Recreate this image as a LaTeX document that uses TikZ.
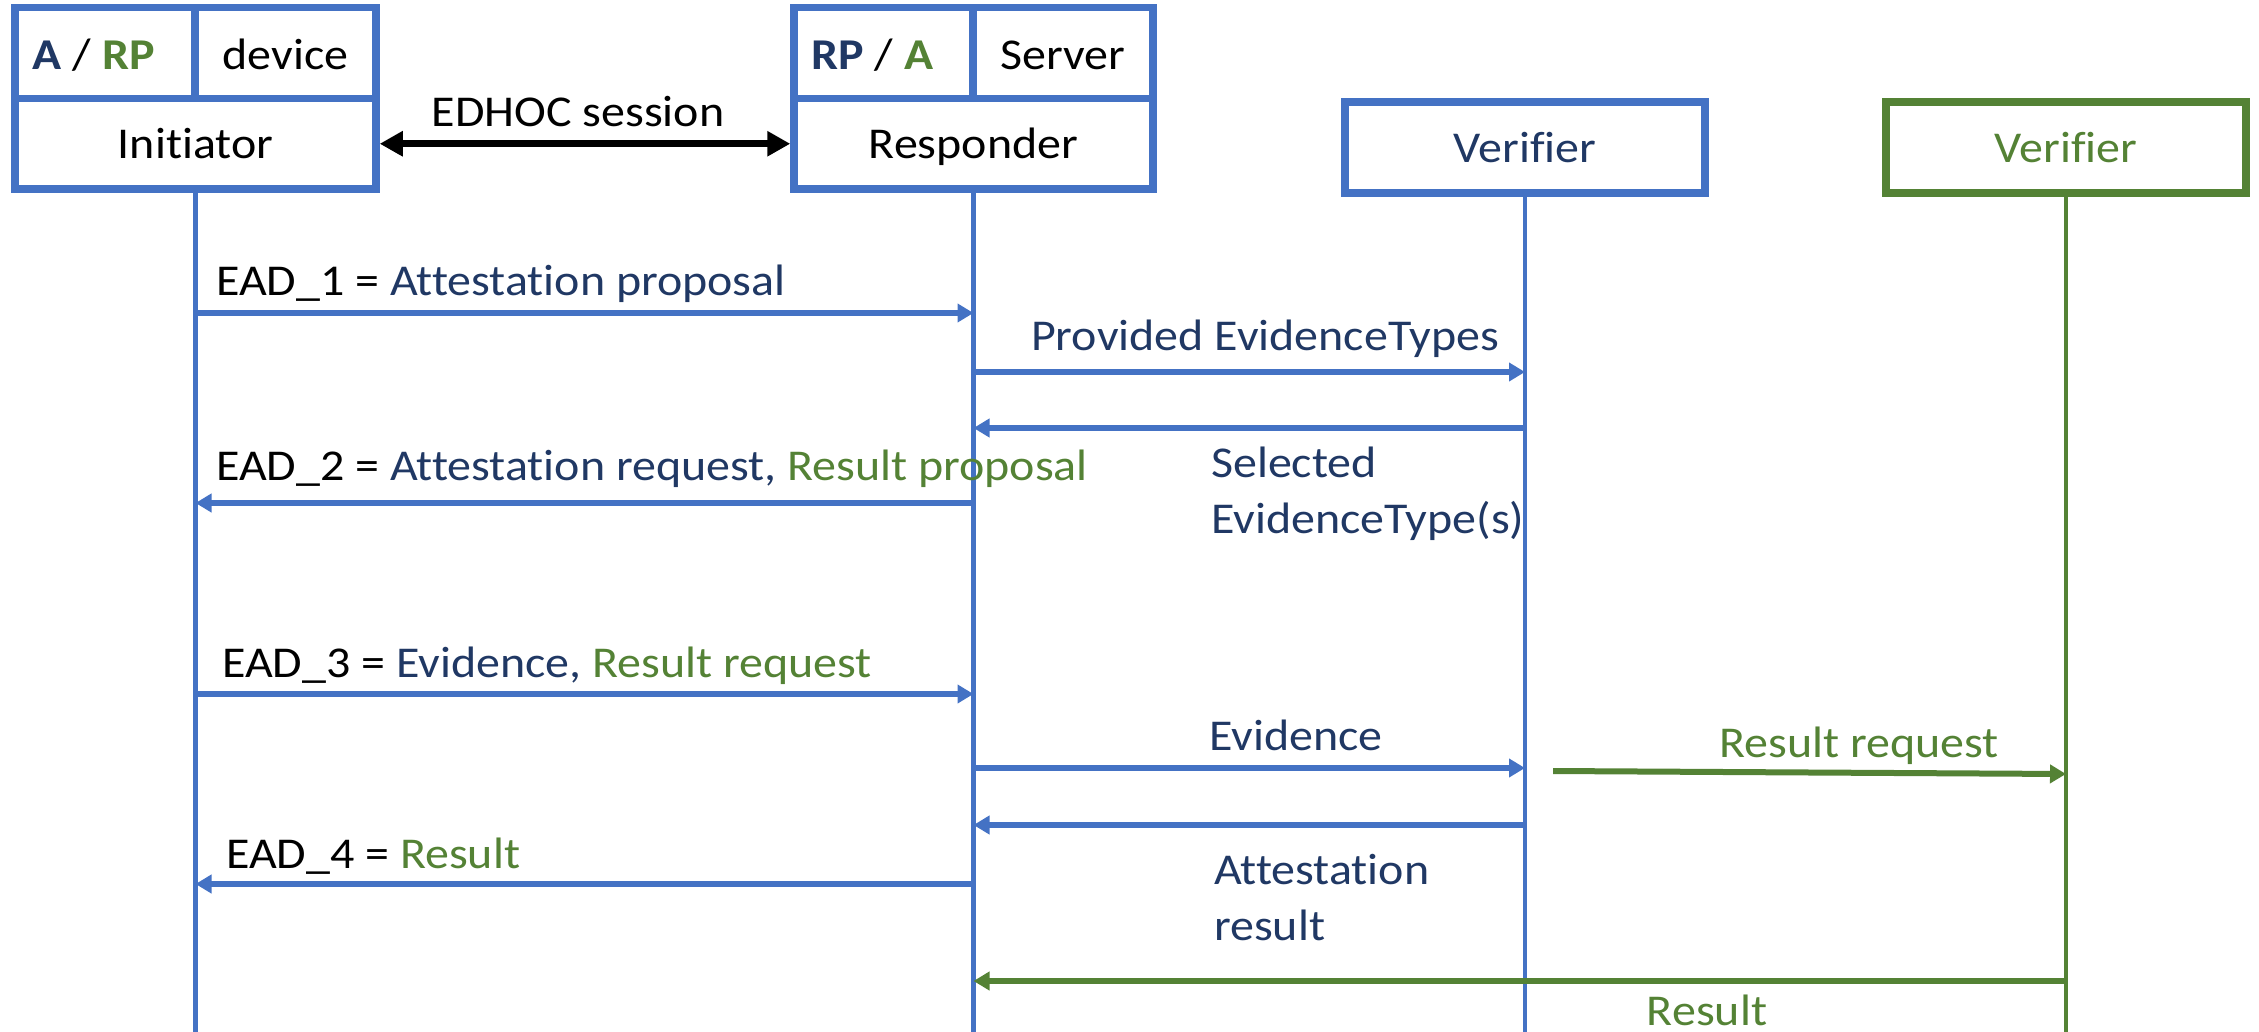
\documentclass[tikz,border=0pt]{standalone}
\usepackage{fontspec}
\setmainfont{Carlito}[FakeStretch=1.09, Ligatures=NoCommon]
\usetikzlibrary{arrows.meta}
\definecolor{boxblue}{HTML}{4472C4}
\definecolor{navy}{HTML}{203864}
\definecolor{leaf}{HTML}{548235}

\begin{document}
\begin{tikzpicture}[x=1pt,y=-1pt,
  every node/.style={font=\fontsize{44}{56}\selectfont},
  cell/.style={draw=boxblue, fill=white, line width=7.5pt, inner sep=0pt, text depth=0pt},
  topcell/.style={cell, minimum height=91pt, text height=34pt},
  maincell/.style={cell, minimum height=90.5pt, text height=30pt},
  vercell/.style={draw=#1, fill=white, line width=7.5pt, inner sep=0pt,
    minimum width=360pt, minimum height=91pt, text height=31pt, text depth=0pt},
  life/.style={draw=#1, line width=4.5pt},
  msg/.style={draw=#1, line width=6pt, -{Triangle[length=16pt,width=18pt]}},
  lbl/.style={inner sep=0pt, anchor=base west},
  clbl/.style={inner sep=0pt, anchor=base},
]
\useasboundingbox (0,0) rectangle (2259,1032);

% lifeline ends at the bottom edge
\coordinate (initEnd) at (195.5,1032);
\coordinate (respEnd) at (973.5,1032);
\coordinate (verAEnd) at (1525,1032);
\coordinate (verBEnd) at (2066,1032);

% participants
\node[topcell, minimum width=180pt] (arp) at (105,53)
  {\textbf{\textcolor{navy}{A}} / \textbf{\textcolor{leaf}{RP}}\kern22pt};
\node[topcell, minimum width=181pt] (dev) at (285.5,53) {device};
\node[maincell, minimum width=361pt] (init) at (195.5,143.75) {Initiator};

\node[topcell, minimum width=179pt] (rpa) at (883.5,53)
  {\textbf{\textcolor{navy}{RP}} / \textbf{\textcolor{leaf}{A}}\kern22pt};
\node[topcell, minimum width=180pt] (srv) at (1063,53) {Server};
\node[maincell, minimum width=359pt] (resp) at (973.5,143.75) {Responder};

\node[vercell=boxblue, text=navy] (verA) at (1525,147.5) {Verifier};
\node[vercell=leaf, text=leaf] (verB) at (2066,147.5) {Verifier};

% lifelines
\draw[life=boxblue] (init.south) -- (initEnd);
\draw[life=boxblue] (resp.south) -- (respEnd);
\draw[life=boxblue] (verA.south) -- (verAEnd);
\draw[life=leaf] (verB.south) -- (verBEnd);

% EDHOC session
\draw[line width=7pt, {Triangle[length=23pt,width=24pt]}-{Triangle[length=23pt,width=24pt]}]
  (init.east) -- (resp.west);
\node[clbl] (edhoc) at (578,127) {EDHOC session};

% messages (multi-line labels sit on the baseline of their last line)
\draw[msg=boxblue] (init.south |- 0,313) -- (resp.south |- 0,313);
\node[lbl] (m1) at (216,295) {EAD\_1 = \textcolor{navy}{Attestation proposal}};

\draw[msg=boxblue] (resp.south |- 0,372) -- (verA.south |- 0,372);
\node[clbl, text=navy] (m2) at (1265,350) {Provided EvidenceTypes};

\draw[msg=boxblue] (verA.south |- 0,428) -- (resp.south |- 0,428);
\node[lbl, text=navy, align=left] (m3) at (1211,533) {Selected\\EvidenceType(s)};

\draw[msg=boxblue] (resp.south |- 0,503) -- (init.south |- 0,503);
\node[lbl] (m4) at (216,480)
  {EAD\_2 = \textcolor{navy}{Attestation request,} \textcolor{leaf}{Result proposal}};

\draw[msg=boxblue] (init.south |- 0,694) -- (resp.south |- 0,694);
\node[lbl] (m5) at (222,677)
  {EAD\_3 = \textcolor{navy}{Evidence,} \textcolor{leaf}{Result request}};

\draw[msg=boxblue] (resp.south |- 0,768) -- (verA.south |- 0,768);
\node[clbl, text=navy] (m6) at (1296,750) {Evidence};

\coordinate (rrStart) at (1553,771);
\draw[msg=leaf] (rrStart) -- (verB.south |- 0,774);
\node[clbl, text=leaf] (m7) at (1859,757) {Result request};

\draw[msg=boxblue] (verA.south |- 0,825) -- (resp.south |- 0,825);
\node[lbl, text=navy, align=left] (m8) at (1214,940) {Attestation\\result};

\draw[msg=boxblue] (resp.south |- 0,884) -- (init.south |- 0,884);
\node[lbl] (m9) at (226,868) {EAD\_4 = \textcolor{leaf}{Result}};

\draw[msg=leaf] (verB.south |- 0,981) -- (resp.south |- 0,981);
\node[clbl, text=leaf] (m10) at (1707,1025) {Result};
\end{tikzpicture}
\end{document}
